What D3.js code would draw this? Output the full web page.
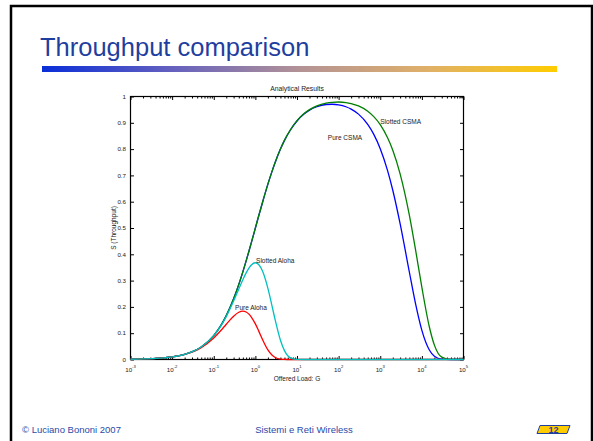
<!DOCTYPE html>
<html><head><meta charset="utf-8">
<script src="https://cdn.jsdelivr.net/npm/d3@7"></script>
<style>html,body{margin:0;padding:0;background:#fff;}svg{display:block;}</style>
</head><body>
<script>
// ---- data ----
const slideTitle = "Throughput comparison";
const chartTitle = "Analytical Results";
const xLabel = "Offered Load: G";
const yLabel = "S (Throughput)";
const footerLeft = "© Luciano Bononi 2007";
const footerCenter = "Sistemi e Reti Wireless";
const pageNumber = "12";

const offeredLoad = [0.001,0.002,0.005,0.01,0.02,0.05,0.1,0.15,0.2,0.3,0.4,0.5,0.6,0.7,0.8,1,1.2,1.5,2,2.5,3,4,5,7,10,15,20,30,50,70,100,150,200,300,500,700,1000,1500,2000,3000,5000,7000,10000,15000,20000,30000,50000,100000];
const pureAloha =    [0.001,0.002,0.005,0.0098,0.0192,0.0452,0.0819,0.1111,0.1341,0.1646,0.1797,0.1839,0.1807,0.1726,0.1615,0.1353,0.1089,0.0747,0.0366,0.0168,0.0074,0.0013,0.0002,0,0,0,0,0,0,0,0,0,0,0,0,0,0,0,0,0,0,0,0,0,0,0,0,0];
const slottedAloha = [0.001,0.002,0.005,0.0099,0.0196,0.0476,0.0905,0.1291,0.1637,0.2222,0.2681,0.3033,0.3293,0.3476,0.3595,0.3679,0.3614,0.3347,0.2707,0.2052,0.1494,0.0733,0.0337,0.0064,0.0005,0,0,0,0,0,0,0,0,0,0,0,0,0,0,0,0,0,0,0,0,0,0,0];
const pureCSMA =     [0.001,0.002,0.005,0.0099,0.0196,0.0476,0.0909,0.1304,0.1667,0.2308,0.2857,0.3333,0.375,0.4118,0.4444,0.5,0.5455,0.6,0.6667,0.7143,0.75,0.8,0.8333,0.8735,0.907,0.934,0.948,0.961,0.9695,0.9706,0.9683,0.961,0.952,0.933,0.894,0.856,0.8015,0.7183,0.6436,0.5166,0.3327,0.2144,0.1108,0.0369,0.0123,0.0014,0,0];
const slottedCSMA =  [0.001,0.002,0.005,0.0099,0.0196,0.0476,0.0909,0.1304,0.1667,0.2308,0.2857,0.3333,0.375,0.4118,0.4444,0.5,0.5455,0.6,0.6667,0.7143,0.75,0.8,0.8333,0.8737,0.908,0.936,0.950,0.9645,0.975,0.978,0.979,0.977,0.973,0.964,0.944,0.9235,0.893,0.843,0.796,0.706,0.549,0.420,0.274,0.1264,0.0547,0.009,0.0002,0];

const seriesNames = ["Pure CSMA","Slotted CSMA","Pure Aloha","Slotted Aloha"];
const seriesValues = [pureCSMA, slottedCSMA, pureAloha, slottedAloha];
const seriesColors = ["#0000ff","#008000","#ff0000","#00bfbf"];

const labelNames = ["Slotted CSMA","Pure CSMA","Slotted Aloha","Pure Aloha"];
const labelG = [1000, 55, 1.04, 0.325];
const labelS = [0.895, 0.835, 0.368, 0.19];

const xTickValues = [1e-3,1e-2,1e-1,1e0,1e1,1e2,1e3,1e4,1e5];
const xTickExponents = ["-3","-2","-1","0","1","2","3","4","5"];
const yTickValues = [0,0.1,0.2,0.3,0.4,0.5,0.6,0.7,0.8,0.9,1];
const yTickLabels = ["0","0.1","0.2","0.3","0.4","0.5","0.6","0.7","0.8","0.9","1"];

// ---- drawing ----
const W = 593, H = 441;
const FONT = "'Liberation Sans', Arial, Helvetica, sans-serif";
const svg = d3.select("body").append("svg").attr("width", W).attr("height", H);
svg.append("rect").attr("width", W).attr("height", H).attr("fill", "#fff");

// slide frame
svg.append("path").attr("d", "M11,441V6H592V441").attr("fill","none").attr("stroke","#000").attr("stroke-width",2.5);

// slide title
svg.append("text").attr("x", 40).attr("y", 56).attr("font-family", FONT).attr("font-size", 25.5)
  .attr("fill", "#1f3fa0").text(slideTitle);

// gradient bar
const defs = svg.append("defs");
const grad = defs.append("linearGradient").attr("id","bar").attr("x1","0").attr("x2","1").attr("y1","0").attr("y2","0");
[["0%","#0a2ed8"],["25%","#6460bf"],["50%","#b39296"],["75%","#e0b068"],["100%","#ffcc00"]]
  .forEach(s => grad.append("stop").attr("offset", s[0]).attr("stop-color", s[1]));
svg.append("rect").attr("x", 42).attr("y", 66).attr("width", 515).attr("height", 6).attr("fill","url(#bar)");

// chart
const x = d3.scaleLog().domain([1e-3, 1e5]).range([130.5, 463.5]);
const y = d3.scaleLinear().domain([0, 1]).range([359.5, 96.5]);
const g = svg.append("g");

// minor ticks
const minor = [];
for (let e = -3; e < 5; e++) for (let k = 2; k <= 9; k++) minor.push(k * Math.pow(10, e));

function styleAxis(sel){ sel.select(".domain").remove(); sel.selectAll("line").attr("stroke","#000").attr("stroke-width",1); sel.selectAll("text").remove(); }
g.append("g").attr("transform",`translate(0,${y(0)})`).call(d3.axisBottom(x).tickValues(xTickValues).tickSize(-3.5)).call(styleAxis);
g.append("g").attr("transform",`translate(0,${y(0)})`).call(d3.axisBottom(x).tickValues(minor).tickSize(-2)).call(styleAxis);
g.append("g").attr("transform",`translate(0,${y(1)})`).call(d3.axisTop(x).tickValues(xTickValues).tickSize(-3.5)).call(styleAxis);
g.append("g").attr("transform",`translate(0,${y(1)})`).call(d3.axisTop(x).tickValues(minor).tickSize(-2)).call(styleAxis);
g.append("g").attr("transform",`translate(${x(1e-3)},0)`).call(d3.axisLeft(y).tickValues(yTickValues).tickSize(-3.5)).call(styleAxis);
g.append("g").attr("transform",`translate(${x(1e5)},0)`).call(d3.axisRight(y).tickValues(yTickValues).tickSize(-3.5)).call(styleAxis);

// frame box
g.append("rect").attr("x", x(1e-3)).attr("y", y(1)).attr("width", x(1e5)-x(1e-3)).attr("height", y(0)-y(1))
  .attr("fill","none").attr("stroke","#000").attr("stroke-width",1.2);

// y tick labels
g.selectAll("text.yt").data(yTickValues).join("text").attr("class","yt")
  .attr("x", x(1e-3) - 4.5).attr("y", d => y(d) + 2.2).attr("text-anchor","end")
  .attr("font-family", FONT).attr("font-size", 6.2).attr("fill","#222")
  .text((d,i) => yTickLabels[i]);

// x tick labels 10^k
const xt = g.selectAll("text.xt").data(xTickValues).join("text").attr("class","xt")
  .attr("x", d => x(d)).attr("y", y(0) + 12).attr("text-anchor","middle")
  .attr("font-family", FONT).attr("font-size", 6.2).attr("fill","#222");
xt.append("tspan").text("10");
xt.append("tspan").attr("font-size", 4.2).attr("dy", -3.8).text((d,i) => xTickExponents[i]);

// curves
const line = d3.line().x(d => x(d[0])).y(d => y(d[1])).curve(d3.curveMonotoneX);
seriesValues.forEach((vals, i) => {
  g.append("path").datum(offeredLoad.map((gv, j) => [gv, vals[j]]))
    .attr("d", line).attr("fill","none").attr("stroke", seriesColors[i]).attr("stroke-width", 1.3)
    .attr("stroke-linejoin","round");
});

// curve labels
g.selectAll("text.lbl").data(labelNames).join("text").attr("class","lbl")
  .attr("x", (d,i) => x(labelG[i])).attr("y", (d,i) => y(labelS[i]))
  .attr("font-family", FONT).attr("font-size", 6.5).attr("fill","#222").text(d => d);

// chart title & axis labels
g.append("text").attr("x", (x(1e-3)+x(1e5))/2).attr("y", y(1) - 6).attr("text-anchor","middle")
  .attr("font-family", FONT).attr("font-size", 6.8).attr("fill","#222").text(chartTitle);
g.append("text").attr("x", (x(1e-3)+x(1e5))/2).attr("y", y(0) + 21.5).attr("text-anchor","middle")
  .attr("font-family", FONT).attr("font-size", 6.5).attr("fill","#222").text(xLabel);
g.append("text").attr("transform", `translate(${x(1e-3) - 15},${(y(0)+y(1))/2}) rotate(-90)`).attr("text-anchor","middle")
  .attr("font-family", FONT).attr("font-size", 6.5).attr("fill","#222").text(yLabel);

// footer
svg.append("text").attr("x", 22).attr("y", 433).attr("font-family", FONT).attr("font-size", 9.5).attr("fill","#2a4aa8").text(footerLeft);
svg.append("text").attr("x", 304).attr("y", 433).attr("text-anchor","middle").attr("font-family", FONT).attr("font-size", 9.5).attr("fill","#2a4aa8").text(footerCenter);
svg.append("path").attr("d","M540,425.5H570L567,433.5H537Z").attr("fill","#ffcc00").attr("stroke","#1f3fa0").attr("stroke-width",1);
svg.append("text").attr("x", 553.5).attr("y", 432.5).attr("text-anchor","middle").attr("font-family", FONT).attr("font-size", 9).attr("font-weight","bold").attr("fill","#1f3fa0").text(pageNumber);
</script>
</body></html>
